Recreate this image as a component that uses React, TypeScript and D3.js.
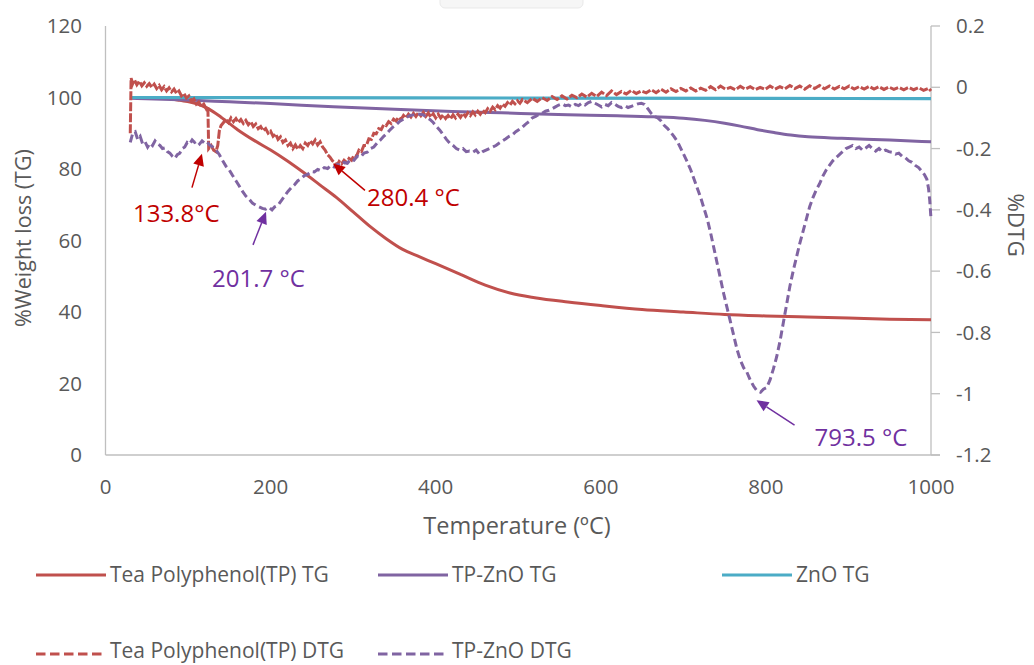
import React from "react";
import * as d3 from "d3";

// Temperature axis (°C) and tick values
const tempTicks = [0, 200, 400, 600, 800, 1000];
const weightTicks = [0, 20, 40, 60, 80, 100, 120];
const dtgTicks = [-1.2, -1, -0.8, -0.6, -0.4, -0.2, 0, 0.2];
const dtgTickLabels = ["-1.2", "-1", "-0.8", "-0.6", "-0.4", "-0.2", "0", "0.2"];

// TG curves: [temperature °C, % weight]
const tpTG: [number, number][] = [
  [30, 100], [60, 100], [90, 99.2], [110, 98.3], [125, 96.8], [140, 94.5], [160, 91],
  [180, 88], [200, 85.3], [220, 82.3], [240, 79], [260, 75.5], [280, 72], [300, 68],
  [320, 64], [340, 60.5], [360, 57.5], [380, 55.5], [400, 53.5], [430, 50.5], [460, 47.5],
  [490, 45.3], [520, 44], [560, 42.8], [600, 41.8], [650, 40.7], [700, 40], [750, 39.3],
  [800, 38.9], [850, 38.6], [900, 38.3], [950, 38], [1000, 37.8],
];

const tpZnoTG: [number, number][] = [
  [30, 99.8], [100, 99.3], [150, 98.8], [200, 98.3], [276, 97.4], [350, 96.7], [420, 96.1],
  [480, 95.7], [560, 95.2], [620, 94.9], [664, 94.6], [700, 94.2], [726, 93.6], [750, 92.8],
  [769, 92.0], [790, 91.0], [810, 90.2], [830, 89.5], [851, 89.0], [892, 88.6], [950, 88.1],
  [1000, 87.6],
];

const znoTG: [number, number][] = [
  [31, 100], [200, 99.95], [500, 99.85], [800, 99.75], [1000, 99.7],
];

// DTG curves: [temperature °C, %DTG]
const tpDTG: [number, number][] = [
  [30, -0.15], [31, 0.03], [33, 0.012], [35, 0.025], [38, 0.008], [41, 0.02], [44, 0.005],
  [47, 0.015], [50, 0.003], [53, 0.012], [56, 0.0], [59, 0.01], [62, -0.004], [65, 0.006],
  [68, -0.008], [71, 0.002], [74, -0.012], [77, -0.002], [80, -0.015], [83, -0.006],
  [86, -0.02], [89, -0.012], [92, -0.028], [95, -0.02], [98, -0.035], [101, -0.028],
  [104, -0.045], [107, -0.038], [110, -0.055], [113, -0.048], [116, -0.062], [119, -0.055],
  [122, -0.07], [124, -0.062], [125, -0.2], [128, -0.19], [131, -0.205], [133.8, -0.21],
  [136, -0.19], [138, -0.14], [140, -0.125], [143, -0.115], [146, -0.105], [149, -0.115],
  [152, -0.1], [155, -0.112], [158, -0.102], [161, -0.115], [164, -0.105], [167, -0.118],
  [170, -0.108], [173, -0.122], [176, -0.112], [179, -0.128], [182, -0.12], [185, -0.135],
  [188, -0.128], [191, -0.142], [194, -0.135], [197, -0.15], [200, -0.143], [203, -0.16],
  [206, -0.152], [209, -0.17], [212, -0.162], [215, -0.18], [218, -0.172], [221, -0.19],
  [224, -0.182], [227, -0.2], [230, -0.188], [233, -0.202], [236, -0.19], [239, -0.2],
  [242, -0.182], [245, -0.19], [248, -0.175], [251, -0.185], [254, -0.172], [257, -0.188],
  [260, -0.178], [263, -0.195], [266, -0.205], [269, -0.22], [272, -0.228], [275, -0.24],
  [278, -0.245], [280.4, -0.255], [283, -0.242], [286, -0.25], [289, -0.238], [292, -0.245],
  [295, -0.232], [298, -0.238], [301, -0.222], [304, -0.225], [307, -0.205], [310, -0.21],
  [313, -0.19], [316, -0.19], [319, -0.168], [322, -0.17], [325, -0.15], [328, -0.152],
  [331, -0.135], [334, -0.138], [337, -0.122], [340, -0.125], [343, -0.112], [346, -0.118],
  [349, -0.104], [352, -0.11], [355, -0.098], [358, -0.105], [361, -0.092], [364, -0.1],
  [367, -0.088], [370, -0.097], [373, -0.085], [376, -0.095], [379, -0.083], [382, -0.093],
  [385, -0.082], [388, -0.095], [391, -0.084], [394, -0.097], [397, -0.086], [400, -0.1],
  [403, -0.088], [406, -0.1], [409, -0.09], [412, -0.102], [415, -0.092], [418, -0.103],
  [421, -0.09], [424, -0.1], [427, -0.088], [430, -0.098], [433, -0.085], [436, -0.095],
  [439, -0.083], [442, -0.092], [445, -0.08], [448, -0.09], [451, -0.078], [454, -0.088],
  [457, -0.075], [460, -0.083], [463, -0.07], [466, -0.078], [469, -0.065], [472, -0.073],
  [475, -0.06], [478, -0.068], [481, -0.055], [484, -0.062], [487, -0.05], [490, -0.058],
  [493, -0.046], [496, -0.054], [499, -0.044], [502, -0.052], [505, -0.04], [511, -0.05],
  [517, -0.036], [523, -0.046], [529, -0.034], [535, -0.043], [541, -0.03], [547, -0.04],
  [553, -0.028], [559, -0.038], [565, -0.026], [571, -0.034], [577, -0.022], [583, -0.032],
  [589, -0.02], [595, -0.03], [601, -0.016], [607, -0.027], [613, -0.012], [619, -0.024],
  [625, -0.014], [631, -0.022], [637, -0.01], [643, -0.02], [649, -0.012], [655, -0.018],
  [661, -0.008], [667, -0.018], [673, -0.006], [679, -0.016], [685, -0.005], [691, -0.014],
  [697, -0.004], [703, -0.012], [709, -0.002], [715, -0.012], [721, -0.003], [727, -0.01],
  [733, 0.002], [739, -0.008], [745, 0.004], [751, -0.006], [757, 0.0], [763, -0.008],
  [769, 0.003], [775, -0.006], [781, 0.002], [787, -0.008], [793, 0.0], [799, -0.007],
  [805, 0.004], [811, -0.006], [817, 0.002], [823, -0.005], [829, 0.006], [835, -0.004],
  [841, 0.004], [847, -0.006], [853, 0.005], [859, -0.004], [865, 0.006], [871, -0.005],
  [877, 0.004], [883, -0.006], [889, 0.003], [895, -0.005], [901, 0.004], [907, -0.006],
  [913, 0.002], [919, -0.006], [925, 0.003], [931, -0.006], [937, 0.002], [943, -0.007],
  [949, 0.001], [955, -0.007], [961, 0.0], [967, -0.008], [973, 0.0], [979, -0.008],
  [985, -0.001], [991, -0.01], [997, -0.003], [1000, -0.012],
];

const tpZnoDTG: [number, number][] = [
  [30, -0.18], [33, -0.15], [36, -0.145], [39, -0.17], [42, -0.16], [45, -0.185], [48, -0.178],
  [51, -0.195], [54, -0.182], [57, -0.19], [60, -0.175], [63, -0.185], [66, -0.19], [69, -0.2],
  [72, -0.198], [75, -0.21], [78, -0.215], [81, -0.225], [84, -0.232], [87, -0.22], [90, -0.215],
  [93, -0.2], [96, -0.195], [99, -0.18], [102, -0.185], [105, -0.172], [108, -0.18], [111, -0.175],
  [114, -0.185], [117, -0.175], [120, -0.182], [123, -0.178], [126, -0.188], [130, -0.195],
  [134, -0.205], [138, -0.22], [142, -0.24], [146, -0.258], [150, -0.27], [154, -0.288],
  [158, -0.305], [162, -0.322], [166, -0.34], [170, -0.355], [174, -0.365], [178, -0.378],
  [182, -0.385], [186, -0.39], [190, -0.395], [194, -0.398], [198, -0.392], [201.7, -0.4],
  [205, -0.39], [209, -0.385], [213, -0.37], [217, -0.355], [221, -0.34], [225, -0.328],
  [229, -0.318], [233, -0.305], [237, -0.298], [241, -0.288], [245, -0.284], [249, -0.275],
  [253, -0.276], [257, -0.268], [261, -0.272], [265, -0.262], [269, -0.265], [273, -0.255],
  [277, -0.26], [281, -0.252], [285, -0.255], [289, -0.245], [293, -0.248], [297, -0.235],
  [301, -0.238], [305, -0.225], [309, -0.228], [313, -0.215], [317, -0.212], [321, -0.2],
  [325, -0.195], [329, -0.182], [333, -0.172], [337, -0.16], [341, -0.15], [345, -0.138],
  [349, -0.128], [353, -0.12], [357, -0.11], [361, -0.104], [365, -0.098], [369, -0.092],
  [373, -0.09], [377, -0.086], [381, -0.088], [385, -0.09], [389, -0.098], [393, -0.105],
  [397, -0.115], [401, -0.128], [405, -0.14], [409, -0.155], [413, -0.17], [417, -0.182],
  [421, -0.19], [425, -0.2], [429, -0.205], [433, -0.2], [437, -0.21], [441, -0.208],
  [445, -0.212], [449, -0.205], [453, -0.218], [457, -0.21], [461, -0.205], [465, -0.2],
  [469, -0.195], [473, -0.19], [477, -0.182], [481, -0.175], [485, -0.168], [489, -0.16],
  [493, -0.155], [497, -0.145], [501, -0.138], [505, -0.13], [509, -0.12], [513, -0.112],
  [517, -0.1], [521, -0.095], [525, -0.088], [529, -0.085], [533, -0.078], [537, -0.075],
  [541, -0.07], [545, -0.064], [549, -0.058], [553, -0.054], [557, -0.06], [561, -0.058],
  [565, -0.064], [569, -0.056], [573, -0.06], [577, -0.052], [581, -0.058], [585, -0.05],
  [589, -0.046], [593, -0.052], [597, -0.058], [601, -0.064], [605, -0.056], [609, -0.06],
  [613, -0.05], [617, -0.055], [621, -0.062], [625, -0.066], [629, -0.06], [633, -0.066],
  [637, -0.062], [641, -0.058], [645, -0.054], [649, -0.052], [653, -0.056], [657, -0.07],
  [661, -0.085], [665, -0.095], [669, -0.1], [673, -0.11], [677, -0.125], [681, -0.135],
  [685, -0.148], [689, -0.162], [693, -0.178], [697, -0.2], [701, -0.222], [705, -0.245],
  [709, -0.27], [713, -0.3], [717, -0.33], [721, -0.36], [725, -0.395], [729, -0.43],
  [733, -0.475], [737, -0.525], [741, -0.575], [745, -0.625], [749, -0.675], [753, -0.72],
  [757, -0.765], [761, -0.81], [765, -0.855], [769, -0.89], [773, -0.915], [777, -0.93],
  [781, -0.955], [785, -0.975], [789, -0.99], [793.5, -0.995], [797, -0.985], [801, -0.98],
  [805, -0.955], [809, -0.92], [813, -0.88], [817, -0.83], [821, -0.77], [825, -0.71],
  [829, -0.65], [833, -0.6], [837, -0.555], [841, -0.51], [845, -0.47], [849, -0.43],
  [853, -0.39], [857, -0.36], [861, -0.335], [865, -0.315], [869, -0.29], [873, -0.27],
  [877, -0.255], [881, -0.24], [885, -0.23], [889, -0.22], [893, -0.21], [897, -0.2],
  [901, -0.195], [905, -0.19], [909, -0.2], [913, -0.195], [917, -0.205], [921, -0.198],
  [925, -0.19], [929, -0.2], [933, -0.208], [937, -0.2], [941, -0.21], [945, -0.205],
  [949, -0.21], [953, -0.212], [957, -0.218], [961, -0.215], [965, -0.225], [969, -0.23],
  [973, -0.24], [977, -0.245], [981, -0.255], [985, -0.262], [989, -0.275], [992, -0.285],
  [995, -0.3], [997, -0.33], [998.5, -0.37], [1000, -0.43],
];

// Peak annotations (temperature, DTG value at the peak)
const peakLabels = ["133.8°C", "280.4 °C", "201.7 °C", "793.5 °C"];
const peakTemps = [133.8, 280.4, 201.7, 793.5];
const peakDtg = [-0.21, -0.255, -0.4, -0.995];
const peakSeries = ["tp", "tp", "znO", "znO"];

const legendRow1 = ["Tea Polyphenol(TP) TG", "TP-ZnO TG", "ZnO TG"];
const legendRow2 = ["Tea Polyphenol(TP) DTG", "TP-ZnO DTG"];

const RED = "#C0504D";
const PURPLE = "#8064A2";
const CYAN = "#4BACC6";
const RED_TEXT = "#C00000";
const PURPLE_TEXT = "#7030A0";
const AXIS = "#BFBFBF";
const LABEL = "#595959";
const FONT = "'Open Sans', 'Segoe UI', sans-serif";

// pixel offsets for arrow tip, arrow tail and label start, relative to each peak
const annLayout = [
  { tip: [-14, 2], tail: [-24, 36], text: [-83, 62] },
  { tip: [-4, -2], tail: [28, 25], text: [30, 32] },
  { tip: [-6, 2], tail: [-19, 35], text: [-60, 69] },
  { tip: [-4, 8], tail: [34, 33], text: [54, 45] },
];

export default function App() {
  const x = d3.scaleLinear().domain([0, 1000]).range([105.5, 931]);
  const yL = d3.scaleLinear().domain([0, 120]).range([455, 26]);
  const yR = d3.scaleLinear().domain([-1.2, 0.2]).range([455, 26]);

  const tgLine = d3
    .line<[number, number]>()
    .x((d) => x(d[0]))
    .y((d) => yL(d[1]))
    .curve(d3.curveMonotoneX);
  const dtgLine = d3
    .line<[number, number]>()
    .x((d) => x(d[0]))
    .y((d) => yR(d[1]));

  const arrow = (x1: number, y1: number, x2: number, y2: number, color: string, key: string) => {
    const ang = Math.atan2(y2 - y1, x2 - x1);
    const len = 12;
    const half = 5.5;
    const bx = x2 - len * Math.cos(ang);
    const by = y2 - len * Math.sin(ang);
    const px = -Math.sin(ang) * half;
    const py = Math.cos(ang) * half;
    return (
      <g key={key}>
        <line x1={x1} y1={y1} x2={bx} y2={by} stroke={color} strokeWidth={1.5} />
        <path d={`M${x2},${y2}L${bx + px},${by + py}L${bx - px},${by - py}Z`} fill={color} />
      </g>
    );
  };

  return (
    <svg
      width={1034}
      height={665}
      style={{ position: "absolute", left: 0, top: 0, background: "#fff" }}
      fontFamily={FONT}
    >
      <rect x={0} y={0} width={1034} height={665} fill="#fff" />
      <rect x={440} y={-10} width={143} height={18} rx={5} fill="#f6f6f6" stroke="#e9e9e9" />

      {/* axes */}
      <line x1={x(0)} y1={yL(120)} x2={x(0)} y2={yL(0)} stroke={AXIS} strokeWidth={1.3} />
      <line x1={x(0)} y1={yL(0)} x2={x(1000) + 9} y2={yL(0)} stroke={AXIS} strokeWidth={1.3} />
      <line x1={x(1000)} y1={yR(0.2)} x2={x(1000)} y2={yR(-1.2)} stroke={AXIS} strokeWidth={1.3} />
      {dtgTicks.map((t) => (
        <line key={"rt" + t} x1={x(1000)} x2={x(1000) + 9} y1={yR(t)} y2={yR(t)} stroke={AXIS} strokeWidth={1.3} />
      ))}

      {weightTicks.map((t) => (
        <text key={"lt" + t} x={82} y={yL(t)} dy="0.35em" textAnchor="end" fontSize={20.5} fill={LABEL}>
          {t}
        </text>
      ))}
      {dtgTicks.map((t, i) => (
        <text key={"rl" + t} x={956} y={yR(t)} dy="0.35em" textAnchor="start" fontSize={20.5} fill={LABEL}>
          {dtgTickLabels[i]}
        </text>
      ))}
      {tempTicks.map((t) => (
        <text key={"bt" + t} x={x(t)} y={487} dy="0.35em" textAnchor="middle" fontSize={20.5} fill={LABEL}>
          {t}
        </text>
      ))}

      <text x={517} y={526} dy="0.35em" textAnchor="middle" fontSize={23.5} fill={LABEL}>
        Temperature (ºC)
      </text>
      <text
        transform="translate(23,238) rotate(-90)"
        dy="0.35em"
        textAnchor="middle"
        fontSize={21.5}
        fill={LABEL}
      >
        %Weight loss (TG)
      </text>
      <text
        transform="translate(1008,225) rotate(90)"
        textAnchor="middle"
        fontSize={22.5}
        fill={LABEL}
      >
        %DTG
      </text>

      {/* TG curves */}
      <path d={tgLine(tpTG) ?? ""} fill="none" stroke={RED} strokeWidth={3} />
      <path d={tgLine(tpZnoTG) ?? ""} fill="none" stroke={PURPLE} strokeWidth={3} />
      <path d={tgLine(znoTG) ?? ""} fill="none" stroke={CYAN} strokeWidth={3.2} />

      {/* DTG curves */}
      <path d={dtgLine(tpDTG) ?? ""} fill="none" stroke={RED} strokeWidth={3} strokeDasharray="9 2" />
      <path d={dtgLine(tpZnoDTG) ?? ""} fill="none" stroke={PURPLE} strokeWidth={3} strokeDasharray="8 4" />

      {/* peak annotations */}
      {peakLabels.map((lab, i) => {
        const px = x(peakTemps[i]);
        const py = yR(peakDtg[i]);
        const L = annLayout[i];
        const color = peakSeries[i] === "tp" ? RED_TEXT : PURPLE_TEXT;
        return (
          <g key={"ann" + i}>
            {arrow(px + L.tail[0], py + L.tail[1], px + L.tip[0], py + L.tip[1], color, "a" + i)}
            <text x={px + L.text[0]} y={py + L.text[1]} dy="0.35em" fontSize={24} fill={color}>
              {lab}
            </text>
          </g>
        );
      })}

      {/* legend */}
      {legendRow1.map((lab, i) => {
        const lx = [36, 378, 722][i];
        const c = [RED, PURPLE, CYAN][i];
        return (
          <g key={"lg1" + i}>
            <line x1={lx} x2={lx + 70} y1={575} y2={575} stroke={c} strokeWidth={3} />
            <text x={lx + 74} y={575} dy="0.35em" fontSize={21} fill={LABEL}>
              {lab}
            </text>
          </g>
        );
      })}
      {legendRow2.map((lab, i) => {
        const lx = [36, 378][i];
        const c = [RED, PURPLE][i];
        return (
          <g key={"lg2" + i}>
            <line x1={lx} x2={lx + 70} y1={654} y2={654} stroke={c} strokeWidth={3} strokeDasharray="9.5 4.5" />
            <text x={lx + 74} y={651} dy="0.35em" fontSize={21} fill={LABEL}>
              {lab}
            </text>
          </g>
        );
      })}
    </svg>
  );
}
